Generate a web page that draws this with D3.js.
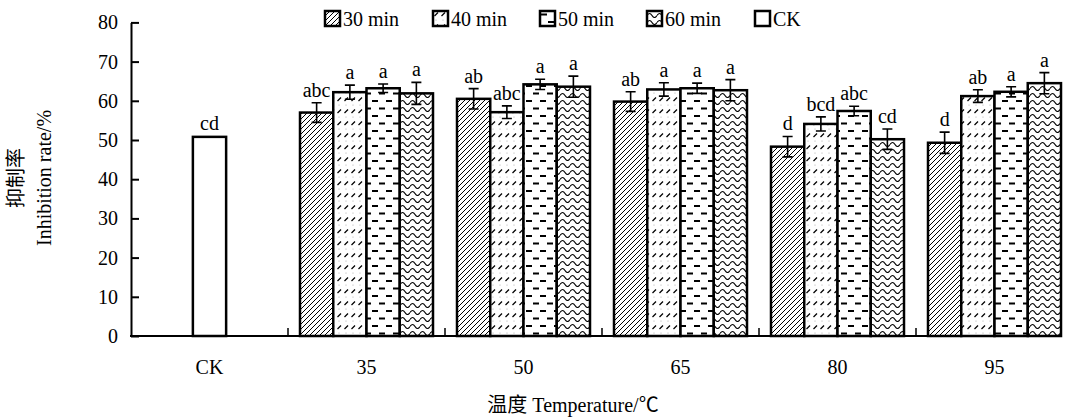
<!DOCTYPE html>
<html>
<head>
<meta charset="utf-8">
<script src="https://cdn.jsdelivr.net/npm/d3@7"></script>
<style>
  body { margin: 0; background: #fff; }
  svg text { font-family: "Liberation Serif", "Times New Roman", "Noto Sans CJK SC", serif; fill: #000; }
</style>
</head>
<body>
<svg id="chart" width="1066" height="420"></svg>
<script>
// data
const groups = ["CK", "35", "50", "65", "80", "95"];
const temps = ["35", "50", "65", "80", "95"];
const series = ["30 min", "40 min", "50 min", "60 min"];
const values = [
  [57.0, 60.5, 59.8, 48.3, 49.3],
  [62.2, 57.1, 62.9, 54.1, 61.2],
  [63.2, 64.2, 63.2, 57.4, 62.3],
  [61.9, 63.6, 62.7, 50.2, 64.5]
];
const errors = [
  [2.5, 2.6, 2.5, 2.6, 2.7],
  [1.8, 1.6, 1.7, 1.8, 1.6],
  [1.1, 1.3, 1.3, 1.2, 1.3],
  [2.8, 2.7, 2.7, 2.6, 2.7]
];
const letters = [
  ["abc", "ab", "ab", "d", "d"],
  ["a", "abc", "a", "bcd", "ab"],
  ["a", "a", "a", "abc", "a"],
  ["a", "a", "a", "cd", "a"]
];
const ckValue = 50.8;
const ckLetter = "cd";
const yTicks = [0, 10, 20, 30, 40, 50, 60, 70, 80];

const svg = d3.select("#chart");
const mLeft = 131, mBottom = 336, mTop = 22.4, axisEnd = 1062;
const fs = 20;

const y = d3.scaleLinear().domain([0, 80]).range([mBottom, mTop]);
const x = d3.scaleBand().domain(groups).range([mLeft, mLeft + 6 * 157]);
const x1 = d3.scaleBand().domain(series).range([12, 145]);

// fill patterns
const defs = svg.append("defs");
const pats = ["p30", "p40", "p50", "p60"];

let p = defs.append("pattern").attr("id", "p30").attr("patternUnits", "userSpaceOnUse")
  .attr("width", 5).attr("height", 5);
p.append("rect").attr("width", 5).attr("height", 5).attr("fill", "#fff");
p.append("path").attr("d", "M-1,1 L1,-1 M0,5 L5,0 M4,6 L6,4").attr("stroke", "#000").attr("stroke-width", 1);

p = defs.append("pattern").attr("id", "p40").attr("patternUnits", "userSpaceOnUse")
  .attr("width", 7).attr("height", 12);
p.append("rect").attr("width", 7).attr("height", 12).attr("fill", "#fff");
p.append("path").attr("d", "M1.5,5 L5,1.5").attr("stroke", "#000").attr("stroke-width", 1.3);
p.append("circle").attr("cx", 3).attr("cy", 9).attr("r", 0.6).attr("fill", "#aaa");

p = defs.append("pattern").attr("id", "p50").attr("patternUnits", "userSpaceOnUse")
  .attr("width", 14).attr("height", 15);
p.append("rect").attr("width", 14).attr("height", 15).attr("fill", "#fff");
p.append("path").attr("d", "M1,3.5 L7,3.5 M8,11 L14,11").attr("stroke", "#000").attr("stroke-width", 1.8);

p = defs.append("pattern").attr("id", "p60").attr("patternUnits", "userSpaceOnUse")
  .attr("width", 10).attr("height", 7);
p.append("rect").attr("width", 10).attr("height", 7).attr("fill", "#fff");
p.append("path").attr("d", "M0,4.5 Q2.5,0.5 5,4.5 T10,4.5").attr("fill", "none").attr("stroke", "#000").attr("stroke-width", 1.2);

// CK bar
const bw = x1.bandwidth();
svg.append("rect")
  .attr("x", x("CK") + x.bandwidth() / 2 - bw / 2)
  .attr("y", y(ckValue))
  .attr("width", bw)
  .attr("height", y(0) - y(ckValue))
  .attr("fill", "#fff").attr("stroke", "#000").attr("stroke-width", 2.5);
svg.append("text")
  .attr("x", x("CK") + x.bandwidth() / 2)
  .attr("y", y(ckValue) - 7)
  .attr("text-anchor", "middle").attr("font-size", fs)
  .text(ckLetter);

// grouped bars
series.forEach((s, si) => {
  const g = svg.append("g");
  temps.forEach((t, ti) => {
    const v = values[si][ti], e = errors[si][ti];
    const bx = x(t) + x1(s);
    const cx = bx + bw / 2;
    g.append("rect")
      .attr("x", bx).attr("y", y(v))
      .attr("width", bw).attr("height", y(0) - y(v))
      .attr("fill", "url(#" + pats[si] + ")")
      .attr("stroke", "#000").attr("stroke-width", 2.5);
    g.append("path")
      .attr("d", `M${cx},${y(v + e)}V${y(v - e)}M${cx - 5},${y(v + e)}H${cx + 5}M${cx - 5},${y(v - e)}H${cx + 5}`)
      .attr("stroke", "#000").attr("stroke-width", 1.6).attr("fill", "none");
    g.append("text")
      .attr("x", cx).attr("y", y(v + e) - 6)
      .attr("text-anchor", "middle").attr("font-size", fs)
      .text(letters[si][ti]);
  });
});

// y axis
const yAxis = svg.append("g").attr("transform", `translate(${mLeft},0)`)
  .call(d3.axisLeft(y).tickValues(yTicks).tickSizeInner(-8).tickSizeOuter(0).tickPadding(13));
yAxis.select(".domain").attr("stroke", "#000").attr("stroke-width", 2);
yAxis.selectAll(".tick line").attr("stroke", "#000").attr("stroke-width", 2);
yAxis.selectAll(".tick text").attr("font-size", fs).attr("font-family", "Liberation Serif");

// x axis
svg.append("line").attr("x1", mLeft - 1).attr("x2", axisEnd).attr("y1", mBottom).attr("y2", mBottom)
  .attr("stroke", "#000").attr("stroke-width", 2);
svg.append("g").selectAll("line").data(groups.slice(1)).join("line")
  .attr("x1", d => x(d)).attr("x2", d => x(d))
  .attr("y1", mBottom).attr("y2", mBottom - 8)
  .attr("stroke", "#000").attr("stroke-width", 1.5);
svg.append("g").selectAll("text").data(groups).join("text")
  .attr("x", d => x(d) + x.bandwidth() / 2)
  .attr("y", 374)
  .attr("text-anchor", "middle").attr("font-size", fs)
  .text(d => d);

// axis titles
svg.append("text").attr("x", 573).attr("y", 412).attr("text-anchor", "middle")
  .attr("font-size", fs).text("温度 Temperature/℃");
const yl = svg.append("text").attr("transform", "translate(0,178) rotate(-90)")
  .attr("text-anchor", "middle").attr("font-size", fs);
yl.append("tspan").attr("x", 0).attr("y", 23).text("抑制率");
yl.append("tspan").attr("x", 0).attr("y", 51).text("Inhibition rate/%");

// legend
const legendNames = series.concat(["CK"]);
const legendFill = pats.map(d => "url(#" + d + ")").concat(["#fff"]);
const legendX = [325, 433, 540, 647, 755];
const lg = svg.append("g").selectAll("g").data(legendNames).join("g")
  .attr("transform", (d, i) => `translate(${legendX[i]},11)`);
lg.append("rect").attr("width", 15).attr("height", 15)
  .attr("fill", (d, i) => legendFill[i]).attr("stroke", "#000").attr("stroke-width", 2.5);
lg.append("text").attr("x", 18).attr("y", 15).attr("font-size", fs).text(d => d);
</script>
</body>
</html>
